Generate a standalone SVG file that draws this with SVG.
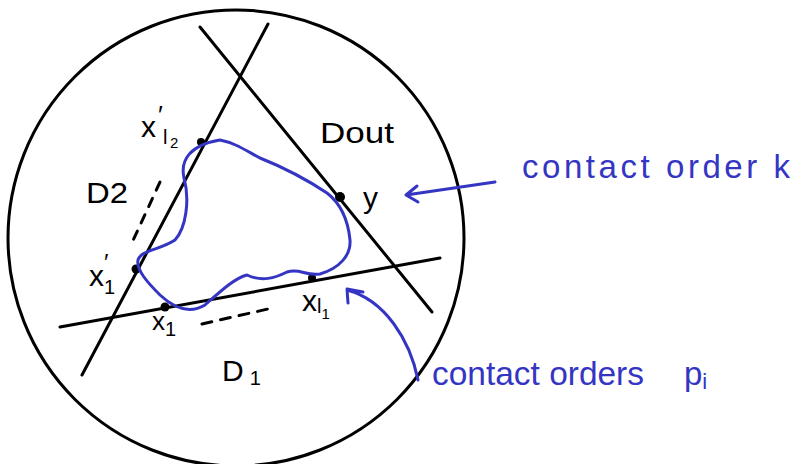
<svg xmlns="http://www.w3.org/2000/svg" width="792" height="464" viewBox="0 0 792 464">
<style>
.ln{fill:none;stroke:#000;stroke-width:3;stroke-linecap:round}
.bl{fill:none;stroke:#3535c3;stroke-width:3;stroke-linecap:round;stroke-linejoin:round}
.dot{fill:#000}
.t{font-family:"Liberation Sans","DejaVu Sans",sans-serif;font-size:30px;fill:#000}
.s{font-size:20px}
.ss{font-size:15px}
.bt{font-family:"Liberation Sans","DejaVu Sans",sans-serif;font-size:33px;fill:#3535c3}
</style>
<rect width="792" height="464" fill="#fff"/>
<g id="disk"><circle cx="236" cy="238" r="228" class="ln"/></g>
<g id="lines">
<line x1="82" y1="375" x2="268" y2="24" class="ln"/>
<line x1="200" y1="27" x2="432" y2="312" class="ln"/>
<line x1="60" y1="327" x2="440" y2="258" class="ln"/>
<path d="M160,182 L130,247" class="ln" stroke-dasharray="9,9"/>
<path d="M202,324 L268,309" class="ln" stroke-dasharray="10,9"/>
</g>
<g id="points">
<circle cx="201" cy="142" r="4" class="dot"/>
<circle cx="340" cy="197" r="5" class="dot"/>
<circle cx="136" cy="269" r="4.5" class="dot"/>
<circle cx="165" cy="307" r="4.5" class="dot"/>
<circle cx="312" cy="278" r="4" class="dot"/>
</g>
<g id="curve">
<path class="bl" d="M220,140 C235,143 245,150 260,158 C275,164 300,175 327,193 C340,203 348,220 350,240 C351,255 340,268 320,274 C305,276 300,268 287,272 C275,278 262,282 247,275 C235,278 222,290 205,305 C190,314 175,309 160,295 C148,283 136,270 138,260 C141,250 160,250 175,240 C186,228 190,200 184,178 C180,160 190,145 220,140 Z"/>
</g>
<g id="arrows">
<path class="bl" d="M495,182 L406,195 M417,186 L406,195 L418,202"/>
<path class="bl" d="M418,380 C410,340 385,300 347,290 M363,292 L347,289 L348,303"/>
</g>
<g id="labels">
<text class="t" x="141" y="137">x</text>
<text class="t" x="158" y="124" style="font-size:26px">′</text>
<text class="t s" x="163" y="144">l</text>
<text class="t ss" x="170" y="148">2</text>
<text class="t" x="320" y="143" textLength="74" lengthAdjust="spacingAndGlyphs">Dout</text>
<text class="t" x="86" y="203" textLength="42" lengthAdjust="spacingAndGlyphs">D2</text>
<text class="t" x="363" y="208">y</text>
<text class="t" x="89" y="286">x</text>
<text class="t" x="104" y="271" style="font-size:24px">′</text>
<text class="t s" x="104" y="294">1</text>
<text class="t" x="152" y="330" style="font-size:26px">x<tspan class="s" dy="6">1</tspan></text>
<text class="t" x="302" y="311">x<tspan class="s" dy="2">l</tspan><tspan class="ss" dy="6">1</tspan></text>
<text class="t" x="222" y="381">D<tspan class="s" dx="6" dy="4">1</tspan></text>
<text class="bt" x="522" y="178" textLength="268" lengthAdjust="spacing">contact order k</text>
<text class="bt" x="432" y="385" textLength="212" lengthAdjust="spacingAndGlyphs">contact orders</text>
<text class="bt" x="684" y="385">p<tspan style="font-size:22px" dy="4">i</tspan></text>
</g>
</svg>
